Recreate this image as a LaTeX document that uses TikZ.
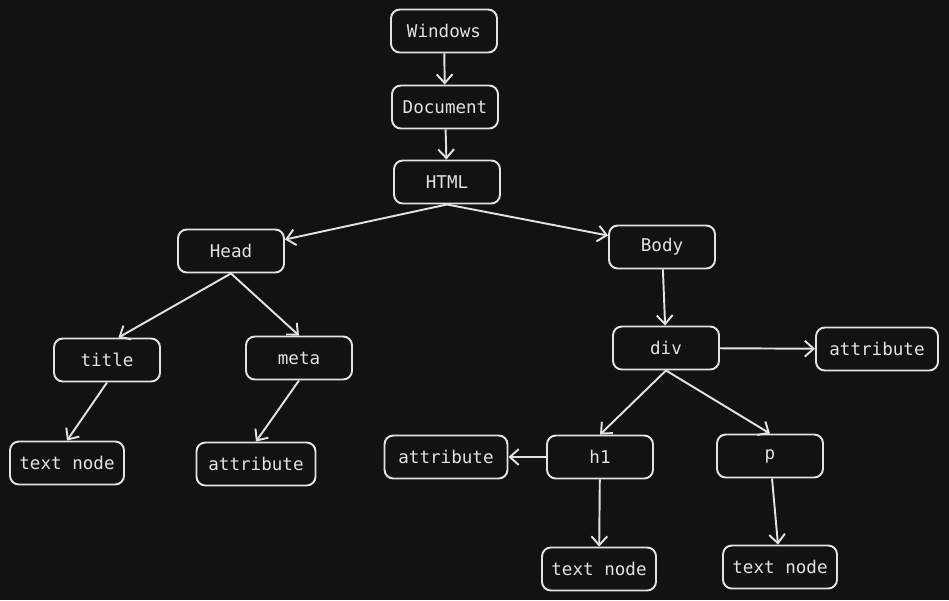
\documentclass[tikz,border=0pt]{standalone}
\usepackage{fontspec}
\setmonofont{DejaVu Sans Mono}
\usetikzlibrary{arrows.meta}
\definecolor{bg}{HTML}{121212}
\definecolor{ink}{HTML}{E2E2E2}
\begin{document}
\begin{tikzpicture}[x=0.02cm, y=-0.02cm,
  box/.style={draw=ink, line width=1.1pt, rounded corners=5pt, minimum width=2.12cm,
    minimum height=0.86cm, text=ink, font=\ttfamily\fontsize{10}{12}\selectfont, inner sep=2pt},
  link/.style={draw=ink, line width=1.1pt, -{Straight Barb[length=5pt,width=9pt]}}]
        % background
        \fill[bg] (0,0) rectangle (949,600);
        % top chain
        \node[box] (win) at (444,31) {Windows};
        \node[box] (doc) at (445,107) {Document};
        \node[box] (html) at (447,182) {HTML};
        % head side
        \node[box] (head) at (231,251) {Head};
        \node[box] (title) at (107,360) {title};
        \node[box] (meta) at (299,358) {meta};
        \node[box, minimum width=2.28cm] (txtA) at (67,463) {text node};
        \node[box, minimum width=2.38cm] (attrA) at (256,464) {attribute};
        % body side
        \node[box] (body) at (662,247) {Body};
        \node[box] (div) at (666,348) {div};
        \node[box, minimum width=2.44cm] (attrB) at (877,349) {attribute};
        \node[box] (hone) at (600,457) {h1};
        \node[box, minimum width=2.46cm] (attrC) at (446,457) {attribute};
        \node[box] (par) at (770,456) {p};
        \node[box, minimum width=2.28cm] (txtB) at (599,569) {text node};
        \node[box, minimum width=2.28cm] (txtC) at (780,567) {text node};
        % arrows
        \draw[link] (win) -- (doc);
        \draw[link] (doc) -- (html);
        \draw[link] (html.south) -- (head.12);
        \draw[link] (html.south) -- (body.168);
        \draw[link] (head.south) -- (title.63);
        \draw[link] (head.south) -- (meta.north);
        \draw[link] (title.south) -- (txtA.north);
        \draw[link] (meta.south) -- (attrA.north);
        \draw[link] (body) -- (div);
        \draw[link] (div) -- (attrB);
        \draw[link] (div.south) -- (hone.north);
        \draw[link] (div.south) -- (par.north);
        \draw[link] (hone) -- (attrC);
        \draw[link] (hone) -- (txtB);
        \draw[link] (par) -- (txtC);
\end{tikzpicture}
\end{document}
